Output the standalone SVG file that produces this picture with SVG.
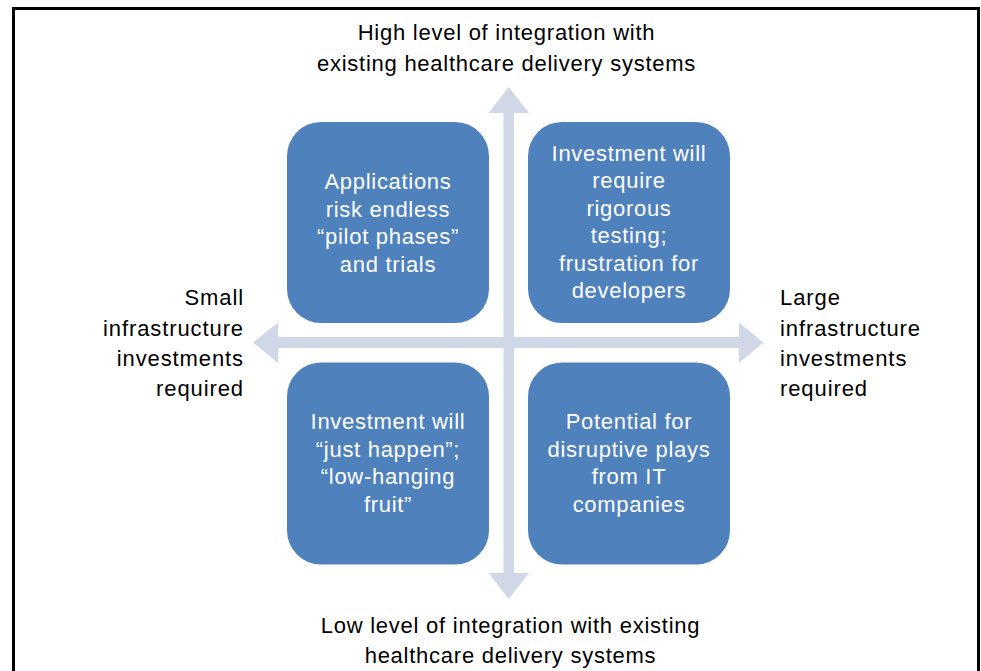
<svg xmlns="http://www.w3.org/2000/svg" width="981" height="671" viewBox="0 0 981 671">
<style>
.box{fill:#4F81BD;}
.arrow{fill:#D0D8E8;}
.bt{font-family:"Liberation Sans",Arial,sans-serif;font-size:22px;fill:#FFFFFF;text-anchor:middle;letter-spacing:0.7px;}
.lt{font-family:"Liberation Sans",Arial,sans-serif;font-size:22px;fill:#000000;letter-spacing:0.75px;}
.st{font-family:"Liberation Sans",Arial,sans-serif;font-size:22px;fill:#000000;letter-spacing:0.9px;}
</style>
<rect x="0" y="0" width="981" height="671" fill="#FFFFFF"/>
<rect x="13.5" y="8.5" width="965" height="700" fill="none" stroke="#000000" stroke-width="3"/>
<g id="connectors">
<polygon class="arrow" points="253,342.5 278,322.5 278,337 739,337 739,322.5 763.5,342.5 739,363 739,348 278,348 278,363"/>
<polygon class="arrow" points="508.7,87 529,113 514,113 514,573 529,573 508.7,599 488.5,573 503.5,573 503.5,113 488.5,113"/>
</g>
<g id="node-tl">
<rect class="box" x="287" y="122" width="202" height="201" rx="34"/>
<text class="bt" x="388" y="189">Applications</text>
<text class="bt" x="388" y="216.5">risk endless</text>
<text class="bt" x="388" y="244">“pilot phases”</text>
<text class="bt" x="388" y="271.5">and trials</text>
</g>
<g id="node-tr">
<rect class="box" x="528" y="122" width="202" height="201" rx="34"/>
<text class="bt" x="629" y="160.5">Investment will</text>
<text class="bt" x="629" y="188">require</text>
<text class="bt" x="629" y="215.5">rigorous</text>
<text class="bt" x="629" y="243">testing;</text>
<text class="bt" x="629" y="270.5">frustration for</text>
<text class="bt" x="629" y="298">developers</text>
</g>
<g id="node-bl">
<rect class="box" x="287" y="362.5" width="202" height="202" rx="34"/>
<text class="bt" x="388" y="429">Investment will</text>
<text class="bt" x="388" y="456.5">“just happen”;</text>
<text class="bt" x="388" y="484">“low-hanging</text>
<text class="bt" x="388" y="511.5">fruit”</text>
</g>
<g id="node-br">
<rect class="box" x="528" y="362.5" width="202" height="202" rx="34"/>
<text class="bt" x="629" y="429">Potential for</text>
<text class="bt" x="629" y="456.5">disruptive plays</text>
<text class="bt" x="629" y="484">from IT</text>
<text class="bt" x="629" y="511.5">companies</text>
</g>
<g id="label-top">
<text class="lt" x="506.5" y="40" text-anchor="middle">High level of integration with</text>
<text class="lt" x="506.5" y="71" text-anchor="middle">existing healthcare delivery systems</text>
</g>
<g id="label-bottom">
<text class="lt" x="510.5" y="633" text-anchor="middle">Low level of integration with existing</text>
<text class="lt" x="510.5" y="663" text-anchor="middle">healthcare delivery systems</text>
</g>
<g id="label-left">
<text class="st" x="244" y="305" text-anchor="end">Small</text>
<text class="st" x="244" y="335.5" text-anchor="end">infrastructure</text>
<text class="st" x="244" y="366" text-anchor="end">investments</text>
<text class="st" x="244" y="396" text-anchor="end">required</text>
</g>
<g id="label-right">
<text class="st" x="780" y="305">Large</text>
<text class="st" x="780" y="335.5">infrastructure</text>
<text class="st" x="780" y="366">investments</text>
<text class="st" x="780" y="396">required</text>
</g>
</svg>
